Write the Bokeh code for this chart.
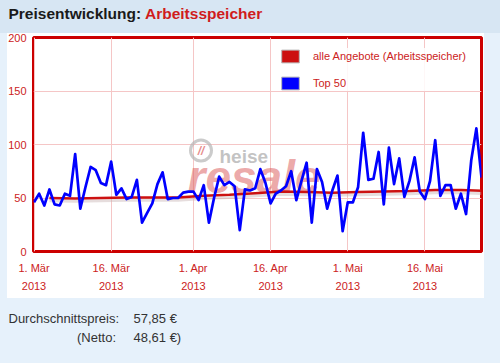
from bokeh.plotting import figure
from bokeh.models import Range1d, FixedTicker, Legend, LegendItem, Label
from bokeh.embed import file_html
from bokeh.resources import INLINE
from bokeh.core.properties import value

# ---------------- data ----------------
title_main = "Preisentwicklung: "
title_cat = "Arbeitsspeicher"

tick_days = [0, 15, 31, 46, 61, 76]
tick_labels = ["1. Mär\n2013", "16. Mär\n2013", "1. Apr\n2013",
               "16. Apr\n2013", "1. Mai\n2013", "16. Mai\n2013"]
y_ticks = [0, 50, 100, 150, 200]

top50_days = list(range(88))
top50_values = [46, 54, 43, 58, 44, 43, 54, 52, 91, 40,
                60, 79, 76, 64, 62, 84, 53, 59, 49, 51,
                67, 27, 36, 45, 63, 74, 49, 50, 50, 55,
                56, 56, 48, 62, 27, 50, 70, 62, 65, 61,
                20, 58, 57, 59, 77, 64, 45, 54, 57, 61,
                75, 48, 66, 83, 27, 77, 65, 40, 57, 71,
                19, 46, 46, 60, 111, 67, 68, 93, 44, 97,
                63, 87, 51, 66, 88, 56, 49, 66, 104, 52,
                62, 62, 40, 54, 35, 85, 115, 69]

all_days = [3, 8, 13, 18, 23, 28, 33, 38, 43, 48, 53, 58, 63, 68, 73, 78, 83, 87]
all_values = [50, 49.5, 50, 50.5, 50.5, 50.5, 52, 53, 54.5, 56, 55.5, 55,
              55.5, 56, 56.5, 57.5, 57.5, 56.8]

legend_labels = ["alle Angebote (Arbeitsspeicher)", "Top 50"]

avg_label = "Durchschnittspreis:"
avg_value = "57,85 €"
net_label = "(Netto:"
net_value = "48,61 €)"

# ---------------- style / geometry (page pixels) ----------------
BG = "#e6f1fb"
HDR = "#d7e6f3"
RED = "#cc0000"
TXT_RED = "#cc2222"
FONT = "Liberation Sans"
PW, PH = 500, 363

FR_L, FR_R, FR_T, FR_B = 33, 481, 37, 251      # plot frame in page pixels
X0, X1, Y0, Y1 = -0.1, 87, 0, 200               # data ranges


def dx(px):
    return X0 + (px - FR_L) * (X1 - X0) / (FR_R - FR_L)


def dy(py):
    return Y0 + (FR_B - py) * (Y1 - Y0) / (FR_B - FR_T)


p = figure(width=PW, height=PH, x_range=Range1d(X0, X1), y_range=Range1d(Y0, Y1),
           output_backend="svg", toolbar_location=None,
           min_border_left=FR_L, min_border_right=PW - FR_R,
           min_border_top=FR_T, min_border_bottom=PH - FR_B,
           background_fill_color="white", border_fill_alpha=0,
           outline_line_color=RED, outline_line_width=3)

for ax in (p.xaxis[0], p.yaxis[0]):
    ax.axis_line_color = None
    ax.major_tick_line_color = None
    ax.minor_tick_line_color = None
    ax.major_tick_out = 0
    ax.major_tick_in = 0
    ax.major_label_text_color = TXT_RED
    ax.major_label_text_font = FONT
    ax.major_label_text_font_size = "11px"

p.yaxis.ticker = FixedTicker(ticks=y_ticks)
p.yaxis.major_label_standoff = 7
p.xaxis.ticker = FixedTicker(ticks=tick_days)
p.xaxis.major_label_overrides = {d: l for d, l in zip(tick_days, tick_labels)}
p.xaxis.major_label_standoff = 10
p.xaxis.major_label_text_line_height = 1.57

p.xgrid.ticker = FixedTicker(ticks=tick_days)
p.ygrid.ticker = FixedTicker(ticks=y_ticks[1:-1])
p.grid.grid_line_color = "#f5c6c6"
p.grid.grid_line_width = 1

# watermark (behind the data)
p.scatter(x=[dx(200.5)], y=[dy(150)], size=21, marker="circle", fill_color=None,
          line_color="#b5b5b5", line_width=3, line_alpha=0.7)
p.text(x=[dx(200.5)], y=[dy(150)], text=["//"], text_font=value(FONT),
       text_font_style="bold italic", text_font_size="12px", text_color="#e07070",
       text_alpha=0.8, text_align="center", text_baseline="middle")
p.text(x=[dx(219)], y=[dy(156)], text=["heise"], text_font=value(FONT),
       text_font_style="bold", text_font_size="19px", text_color="#b0b0b0",
       text_alpha=0.75, text_baseline="middle")
p.text(x=[dx(187)], y=[dy(176)], text=["resale"],
       text_font=value("'Liberation Sans Narrow', 'Liberation Sans'"),
       text_font_style="bold italic", text_font_size="46px", text_color="#dc6060",
       text_alpha=0.55, text_baseline="middle")

# data lines
p.line(all_days, [v - 2.5 for v in all_values], line_color="#c8b4b4",
       line_width=3, line_alpha=0.45)
p.line(all_days, all_values, line_color="#cc1111", line_width=2.5)
p.line(top50_days, top50_values, line_color="#0000ff", line_width=2.7,
       line_join="round")

# legend with filled swatches (hidden proxy renderers)
r_all = p.quad(left=all_days[:1], right=all_days[:1], top=all_values[:1],
               bottom=all_values[:1], fill_color="#cc1111", line_color="#b8b8b8",
               line_width=1, visible=False)
r_top = p.quad(left=top50_days[:1], right=top50_days[:1], top=top50_values[:1],
               bottom=top50_values[:1], fill_color="#0000ff", line_color="#b8b8b8",
               line_width=1, visible=False)
legend = Legend(items=[LegendItem(label=legend_labels[0], renderers=[r_all]),
                       LegendItem(label=legend_labels[1], renderers=[r_top])],
                location=(246, 160), orientation="vertical",
                padding=8, spacing=11, glyph_width=22, glyph_height=16,
                label_height=16, label_standoff=12,
                label_text_font=FONT, label_text_font_size="11px",
                label_text_color=TXT_RED, border_line_color=None,
                background_fill_color="white", background_fill_alpha=0.85)
p.add_layout(legend, "center")

# title (side-panel annotations are not clipped to the frame)
tcommon = dict(text_font=FONT, text_font_style="bold", text_font_size="15.5px",
               text_baseline="middle")
p.add_layout(Label(x=dx(8), y=dy(12.8), text=title_main, text_color="#1a1a1a",
                   **tcommon), "above")
p.add_layout(Label(x=dx(144.5), y=dy(12.8), text=title_cat, text_color="#d01c1c",
                   **tcommon), "above")

# bottom summary
common = dict(text_font=FONT, text_font_size="13px", text_color="#333333",
              text_baseline="middle")
p.add_layout(Label(x=dx(8), y=dy(318), text=avg_label, **common), "below")
p.add_layout(Label(x=dx(133), y=dy(318), text=avg_value, **common), "below")
p.add_layout(Label(x=dx(115.5), y=dy(337), text=net_label, text_align="right",
                   **common), "below")
p.add_layout(Label(x=dx(133), y=dy(337), text=net_value, **common), "below")

html = file_html(p, INLINE)
css = ("<style>html{background:"
       "linear-gradient(#ffffff,#ffffff) 7px 33px/477px 265px no-repeat,"
       "linear-gradient(" + HDR + "," + HDR + ") 0 0/100% 33px no-repeat," + BG +
       ";}</style></head>")
html = html.replace("</head>", css, 1)
open("out.html", "w").write(html)
